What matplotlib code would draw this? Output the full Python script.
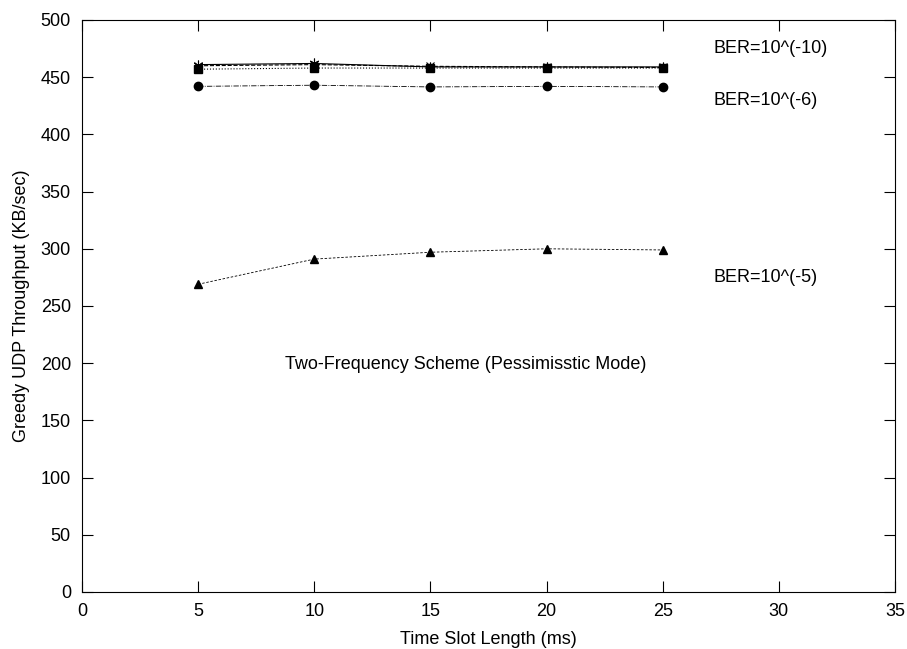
import matplotlib.pyplot as plt

plt.rcParams['font.family'] = ['Liberation Sans', 'DejaVu Sans']

slot = [5, 10, 15, 20, 25]
ber_10 = [461, 462, 459, 459, 459]
ber_8 = [460, 461, 459.5, 459, 458.5]
ber_7 = [457, 458, 458, 458, 458]
ber_6 = [442, 443, 441.5, 442, 441.5]
ber_5 = [269, 291, 297, 300, 299]

fig = plt.figure(figsize=(9.07, 6.49), dpi=100)
ax = fig.add_axes([82 / 907, 57 / 649, 813 / 907, 572 / 649])

ax.plot(slot, ber_10, color='black', linestyle='-', linewidth=0.8, marker=(6, 2, 0), markersize=7, markeredgewidth=0.8)
ax.plot(slot, ber_8, color='black', linestyle='--', linewidth=0.8, marker='x', markersize=6, markeredgewidth=0.8)
ax.plot(slot, ber_7, color='black', linestyle=':', linewidth=0.8, marker='s', markersize=6)
ax.plot(slot, ber_6, color='black', linestyle='-.', linewidth=0.6, marker='o', markersize=6)
ax.plot(slot, ber_5, color='black', linestyle=(0, (3, 2)), linewidth=0.6, marker='^', markersize=6)

ax.text(27.2, 475, 'BER=10^(-10)', fontsize=13, va='center')
ax.text(27.2, 430, 'BER=10^(-6)', fontsize=13, va='center')
ax.text(27.2, 275, 'BER=10^(-5)', fontsize=13, va='center')
ax.text(16.5, 199, 'Two-Frequency Scheme (Pessimisstic Mode)', fontsize=13, ha='center', va='center')

ax.set_xlim(0, 35)
ax.set_ylim(0, 500)
ax.set_xticks(range(0, 36, 5))
ax.set_yticks(range(0, 501, 50))
ax.tick_params(direction='in', length=8, pad=8, labelsize=13, top=True, right=True, labeltop=False, labelright=False)
ax.set_xlabel('Time Slot Length (ms)', fontsize=13, labelpad=8)
ax.set_ylabel('Greedy UDP Throughput (KB/sec)', fontsize=13, labelpad=8)

fig.savefig('out.png', dpi=100)
